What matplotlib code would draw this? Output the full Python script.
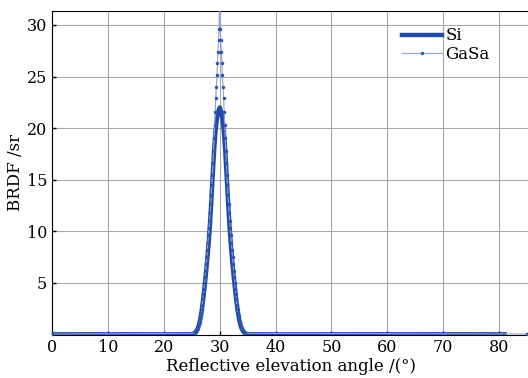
import numpy as np
from matplotlib import pyplot as plt

plt.rcParams['font.family'] = 'DejaVu Serif'

# Si: smooth peak, samples every 0.25 deg around 30 deg
si_angle = [0, 20, 25.0, 25.25, 25.5, 25.75, 26.0, 26.25, 26.5, 26.75, 27.0, 27.25,
            27.5, 27.75, 28.0, 28.25, 28.5, 28.75, 29.0, 29.25, 29.5, 29.75, 30.0,
            30.25, 30.5, 30.75, 31.0, 31.25, 31.5, 31.75, 32.0, 32.25, 32.5, 32.75,
            33.0, 33.25, 33.5, 33.75, 34.0, 34.25, 34.5, 34.75, 35.0, 40, 60, 81]
si_brdf = [0.02, 0.02, 0.04, 0.07, 0.14, 0.27, 0.5, 0.85, 1.4, 2.2, 3.2, 4.4,
           5.7, 7.1, 8.7, 10.6, 12.9, 15.4, 17.8, 19.7, 20.9, 21.6, 22.0,
           21.6, 20.9, 19.7, 17.8, 15.4, 12.9, 10.6, 8.7, 7.1, 5.7, 4.4,
           3.2, 2.2, 1.4, 0.85, 0.5, 0.27, 0.14, 0.07, 0.04, 0.02, 0.02, 0.02]

# GaSa: sharp peak, samples every 0.1 deg from 25.5 to 34.5
gasa_peak = np.linspace(25.5, 34.5, 91)
gasa_side = [0.12, 0.16, 0.22, 0.3, 0.4, 0.5, 0.65, 0.8, 1.0, 1.2,
             1.5, 1.8, 2.1, 2.5, 2.9, 3.4, 3.9, 4.4, 5.0, 5.6,
             6.2, 6.8, 7.5, 8.2, 8.9, 9.6, 10.3, 11.0, 11.8, 12.6,
             13.5, 14.5, 15.5, 16.6, 17.8, 19.0, 20.3, 21.6, 22.9, 24.0,
             25.1, 26.3, 27.4, 28.5, 29.6]
gasa_brdf_peak = gasa_side + [34.0] + gasa_side[::-1]
gasa_angle = [0] + list(gasa_peak) + [85]
gasa_brdf = [0.05] + gasa_brdf_peak + [0.05]

fig = plt.figure(figsize=(5.28, 3.78), dpi=100)
ax = fig.add_axes([0.0985, 0.115, 0.905, 0.856])

ax.plot(si_angle, si_brdf, color='#1f4aa8', linewidth=3.2, label='Si', zorder=3)
ax.plot(gasa_angle, gasa_brdf, color='#8ea3dc', linewidth=0.8, marker='.',
        markersize=3, markerfacecolor='#2a55b0', markeredgecolor='#2a55b0',
        label='GaSa', zorder=4)

ax.set_xlim(0, 85.5)
ax.set_ylim(0, 31.35)
ax.set_xticks(range(0, 81, 10))
ax.set_yticks([5, 10, 15, 20, 25, 30])
ax.tick_params(direction='in', labelsize=11.5, length=3, width=1)
ax.grid(True, color='#a8a8a8', linewidth=0.8)
ax.set_axisbelow(True)
ax.spines['right'].set_visible(False)

ax.set_xlabel('Reflective elevation angle /(°)', fontsize=12, labelpad=1)
ax.set_ylabel('BRDF /sr', fontsize=12, labelpad=2)

ax.legend(loc='upper right', bbox_to_anchor=(0.93, 0.97), frameon=False,
          fontsize=12, handlelength=2.4, handletextpad=0.2, labelspacing=0.1,
          borderaxespad=0)

plt.savefig('out.png', dpi=100)
